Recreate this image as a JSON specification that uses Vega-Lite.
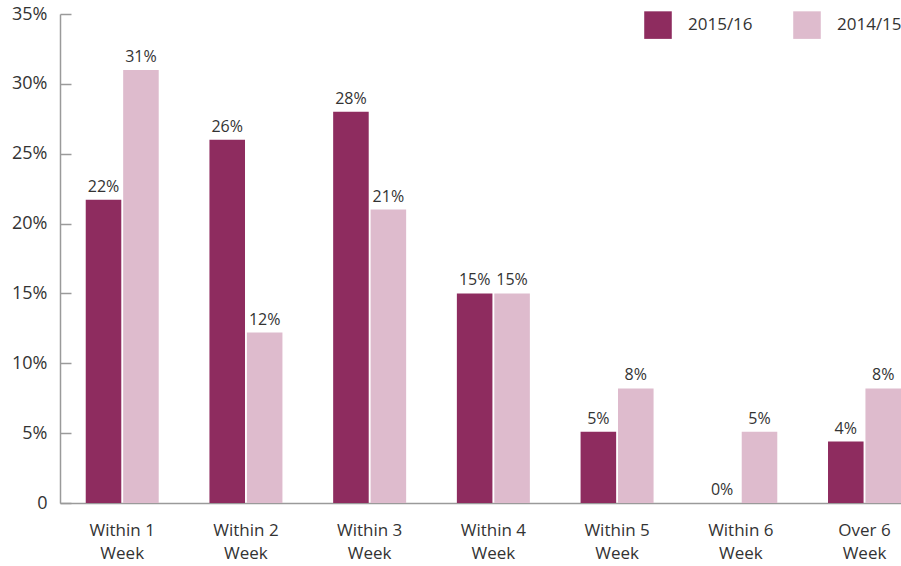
{
  "$schema": "https://vega.github.io/schema/vega-lite/v6.json",
  "width": 841,
  "height": 489,
  "autosize": {"type": "none"},
  "padding": {"left": 60, "top": 14, "right": 0, "bottom": 63},
  "background": "white",
  "config": {
    "view": {"stroke": null},
    "font": "Open Sans",
    "text": {"font": "Open Sans"}
  },
  "data": {
    "values": [
      {"cat": "Within 1 Week", "year": "2015/16", "value": 21.7, "label": "22%"},
      {"cat": "Within 1 Week", "year": "2014/15", "value": 31.0, "label": "31%"},
      {"cat": "Within 2 Week", "year": "2015/16", "value": 26.0, "label": "26%"},
      {"cat": "Within 2 Week", "year": "2014/15", "value": 12.2, "label": "12%"},
      {"cat": "Within 3 Week", "year": "2015/16", "value": 28.0, "label": "28%"},
      {"cat": "Within 3 Week", "year": "2014/15", "value": 21.0, "label": "21%"},
      {"cat": "Within 4 Week", "year": "2015/16", "value": 15.0, "label": "15%"},
      {"cat": "Within 4 Week", "year": "2014/15", "value": 15.0, "label": "15%"},
      {"cat": "Within 5 Week", "year": "2015/16", "value": 5.1, "label": "5%"},
      {"cat": "Within 5 Week", "year": "2014/15", "value": 8.2, "label": "8%"},
      {"cat": "Within 6 Week", "year": "2015/16", "value": 0, "label": "0%"},
      {"cat": "Within 6 Week", "year": "2014/15", "value": 5.1, "label": "5%"},
      {"cat": "Over 6 Week", "year": "2015/16", "value": 4.4, "label": "4%"},
      {"cat": "Over 6 Week", "year": "2014/15", "value": 8.2, "label": "8%"}
    ]
  },
  "encoding": {
    "x": {
      "field": "cat",
      "type": "nominal",
      "sort": null,
      "scale": {"paddingInner": 0.41, "paddingOuter": 0.104, "align": 1},
      "axis": {
        "title": null,
        "labelAngle": 0,
        "ticks": false,
        "domainColor": "#9a9a9a",
        "domainWidth": 1.5,
        "labelExpr": "[replace(datum.value, ' Week', ''), 'Week']",
        "labelFontSize": 17,
        "labelColor": "#333333",
        "labelPadding": 19,
        "labelLineHeight": 23,
        "labelFont": "Open Sans"
      }
    },
    "xOffset": {
      "field": "year",
      "type": "nominal",
      "scale": {"domain": ["2015/16", "2014/15"], "paddingInner": 0.05}
    },
    "y": {
      "field": "value",
      "type": "quantitative",
      "scale": {"domain": [0, 35], "nice": false},
      "axis": {
        "title": null,
        "values": [0, 5, 10, 15, 20, 25, 30, 35],
        "grid": false,
        "labelExpr": "datum.value == 0 ? '0' : datum.value + '%'",
        "labelFontSize": 18,
        "labelColor": "#333333",
        "domainColor": "#9a9a9a",
        "domainWidth": 1.5,
        "tickColor": "#9a9a9a",
        "tickWidth": 1.5,
        "tickSize": -11,
        "labelPadding": 24,
        "labelFont": "Open Sans"
      }
    }
  },
  "layer": [
    {
      "mark": {"type": "bar"},
      "encoding": {
        "color": {
          "field": "year",
          "type": "nominal",
          "scale": {"domain": ["2015/16", "2014/15"], "range": ["#8E2C5F", "#DEBBCD"]},
          "legend": {
            "title": null,
            "orient": "none",
            "legendX": 584,
            "legendY": -3,
            "direction": "horizontal",
            "symbolType": "square",
            "symbolSize": 760,
            "symbolStrokeWidth": 0,
            "labelFontSize": 17,
            "labelColor": "#333333",
            "labelFont": "Open Sans",
            "labelOffset": 16,
            "columnPadding": 40
          }
        }
      }
    },
    {
      "mark": {"type": "text", "baseline": "bottom", "dy": -5, "fontSize": 16, "color": "#333333"},
      "encoding": {"text": {"field": "label"}}
    }
  ]
}
